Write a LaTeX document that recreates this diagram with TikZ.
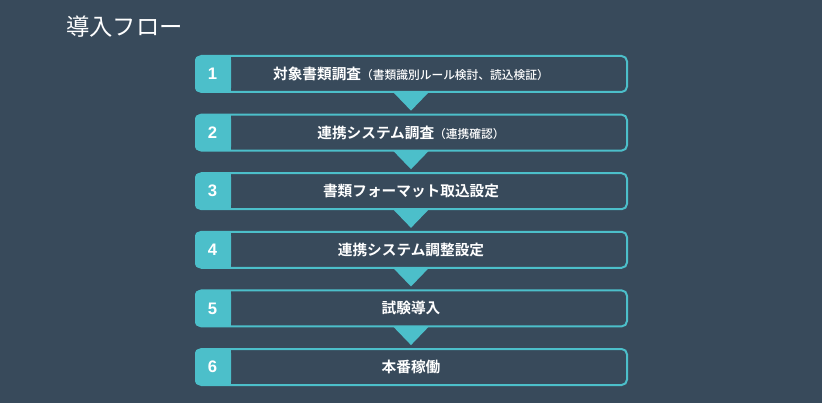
\documentclass[tikz,border=0pt]{standalone}
\usepackage{fontspec}
\setmainfont{Liberation Sans}
\newfontfamily\jp{Noto Sans CJK JP}
\newfontfamily\jpb{Noto Sans CJK JP Bold}
\newfontfamily\jpm{Noto Sans CJK JP Medium}
\definecolor{bg}{HTML}{384A5B}
\definecolor{teal}{HTML}{4CBFCA}
\begin{document}
\begin{tikzpicture}[x=0.75pt,y=-0.75pt,
  stepbox/.style={draw=teal,line width=1.5pt,rounded corners=4pt,fill=bg},
  numtab/.style={fill=teal,rounded corners=3pt},
  numtxt/.style={text=white,font=\fontsize{12.5}{14}\selectfont\bfseries},
  lbl/.style={text=white,font=\jpb\fontsize{11}{12}\selectfont},
  arrowtri/.style={fill=teal}]
\fill[bg] (0,0) rectangle (822,403);
\useasboundingbox (0,0) rectangle (822,403);
\node[anchor=west,text=white,font=\jp\fontsize{17.5}{19}\selectfont,inner sep=0pt] (title) at (66,27) {導入フロー};
\foreach \i/\y in {1/56,2/114.6,3/173.2,4/231.8,5/290.4,6/349}{
  \draw[stepbox] (196,\y) rectangle (627,\y+36);
  \path[numtab] (195,\y) rectangle (231,\y+36);
  \fill[teal] (222,\y+0.8) rectangle (231,\y+35.2);
  \node[numtxt] (n\i) at (212.5,\y+18) {\i};
  \coordinate (b\i) at (411,\y+36);
}
\node[lbl] (t1) at (411,74) {対象書類調査{\jpm\fontsize{8.8}{10}\selectfont（書類識別ルール検討、読込検証）}};
\node[lbl] (t2) at (411,132.6) {連携システム調査{\jpm\fontsize{8.8}{10}\selectfont（連携確認）}};
\node[lbl] (t3) at (411,191.2) {書類フォーマット取込設定};
\node[lbl] (t4) at (411,249.8) {連携システム調整設定};
\node[lbl] (t5) at (411,308.4) {試験導入};
\node[lbl] (t6) at (411,367) {本番稼働};
\foreach \i in {1,...,5}{
  \fill[arrowtri] ([xshift=-13.5pt]b\i) -- ([xshift=13.5pt]b\i) -- ([yshift=-14pt]b\i) -- cycle;
}
\end{tikzpicture}
\end{document}
